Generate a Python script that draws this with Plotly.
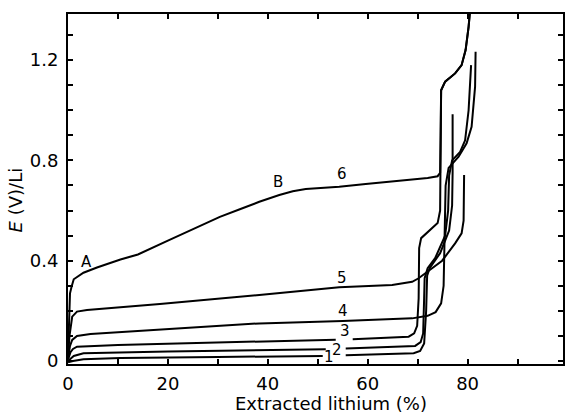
import plotly.graph_objects as go

# ---- data ----
c1_x = [0.0, 1.0, 3.1, 10.5, 30.0, 51.0, None, 55.6, 69.2, 70.5, 71.3, 71.7, 71.9, 72.4, 74.5, 76.3, 76.9, 77.0, 77.0]
c1_y = [-0.005, 0.0, 0.007, 0.012, 0.016, 0.020, None, 0.023, 0.031, 0.040, 0.070, 0.20, 0.34, 0.37, 0.43, 0.52, 0.62, 0.75, 0.984]

c2_x = [0.0, 0.6, 1.15, 3.1, 20.0, 51.6, None, 55.6, 66.0, 69.5, 70.6, 71.1, 71.3, 71.4, 72.0, 73.5, 75.5, 76.1, 76.3, 76.9, 78.5, 79.5, 80.2, 80.7]
c2_y = [0.0, 0.012, 0.020, 0.031, 0.038, 0.047, None, 0.050, 0.056, 0.060, 0.075, 0.11, 0.25, 0.33, 0.37, 0.41, 0.50, 0.60, 0.74, 0.80, 0.834, 0.88, 1.00, 1.18]

c3_x = [0.0, 0.5, 1.0, 1.8, 10.0, 30.0, 53.6, None, 57.0, 66.0, 68.2, 69.3, 69.9, 70.2, 70.3, 70.7, 72.2, 74.0, 74.5, 74.6, 74.7, 75.5, 77.5, 78.8, 79.6, 80.2, 80.5]
c3_y = [0.005, 0.035, 0.048, 0.057, 0.064, 0.075, 0.085, None, 0.087, 0.093, 0.097, 0.11, 0.14, 0.25, 0.45, 0.49, 0.516, 0.55, 0.60, 0.75, 1.08, 1.114, 1.147, 1.18, 1.24, 1.333, 1.40]

c4_x = [0.0, 0.4, 0.84, 1.8, 4.5, 10.5, 38.3, 55.0, 62.0, 68.9, 72.0, 73.6, 74.7, 75.2, 75.4, 75.6, 76.2, 78.2, 79.8, 80.8, 81.5, 81.6]
c4_y = [0.01, 0.06, 0.084, 0.100, 0.108, 0.115, 0.150, 0.160, 0.165, 0.170, 0.180, 0.195, 0.23, 0.30, 0.50, 0.70, 0.77, 0.815, 0.868, 0.934, 1.094, 1.233]

c5_x = [0.0, 0.3, 0.84, 1.8, 3.8, 10.5, 18.4, 38.3, 54.3, 64.9, 68.9, 70.2, 72.2, 74.9, 77.5, 78.8, 79.2, 79.3, 79.3]
c5_y = [0.02, 0.10, 0.177, 0.197, 0.203, 0.214, 0.227, 0.263, 0.294, 0.303, 0.316, 0.33, 0.36, 0.40, 0.469, 0.509, 0.56, 0.65, 0.742]

c6_x = [0.0, 0.2, 0.4, 0.7, 1.15, 3.1, 5.8, 10.5, 14.0, 20.0, 26.4, 30.4, 34.4, 38.3, 42.3, 45.0, 47.6, 50.3, 54.3, 59.6, 66.2, 72.0, 74.0, 74.5, 74.6, 74.7, 75.5, 77.5, 78.8, 79.6, 80.2, 80.5]
c6_y = [0.02, 0.18, 0.27, 0.295, 0.326, 0.352, 0.373, 0.405, 0.425, 0.48, 0.538, 0.575, 0.605, 0.635, 0.662, 0.677, 0.686, 0.690, 0.695, 0.706, 0.719, 0.730, 0.737, 0.75, 0.90, 1.08, 1.114, 1.147, 1.18, 1.24, 1.333, 1.40]

curve_labels = ["1", "2", "3", "4", "5", "6", "A", "B"]
label_x = [52.3, 53.8, 55.4, 55.1, 54.8, 54.8, 3.7, 42.1]
label_y = [0.015, 0.045, 0.118, 0.200, 0.330, 0.746, 0.393, 0.712]

x_tickvals = [0, 10, 20, 30, 40, 50, 60, 70, 80, 90]
x_ticktext = ["0", "", "20", "", "40", "", "60", "", "80", ""]
y_tickvals = [0.0, 0.1, 0.2, 0.3, 0.4, 0.5, 0.6, 0.7, 0.8, 0.9, 1.0, 1.1, 1.2, 1.3]
y_ticktext = ["0", "", "", "", "0.4", "", "", "", "0.8", "", "", "", "1.2", ""]

# ---- figure ----
FONT = "DejaVu Sans"
fig = go.Figure()
for xs, ys in [(c1_x, c1_y), (c2_x, c2_y), (c3_x, c3_y), (c4_x, c4_y), (c5_x, c5_y), (c6_x, c6_y)]:
    fig.add_trace(go.Scatter(x=xs, y=ys, mode="lines", connectgaps=False,
                             line=dict(color="black", width=2), showlegend=False,
                             hoverinfo="skip"))

for t, lx, ly in zip(curve_labels, label_x, label_y):
    fig.add_annotation(x=lx, y=ly, text=t, showarrow=False,
                       xanchor="center", yanchor="middle", borderpad=0,
                       font=dict(family=FONT, size=15, color="black"))

fig.add_annotation(xref="paper", yref="paper", x=0.532, y=-0.114,
                   xanchor="center", yanchor="middle",
                   text="Extracted lithium (%)", showarrow=False,
                   font=dict(family=FONT, size=18, color="black"))
fig.add_annotation(xref="paper", yref="paper", x=-0.106, y=0.469,
                   xanchor="center", yanchor="middle",
                   text="<i>E</i> (V)/Li", textangle=-90, showarrow=False,
                   font=dict(family=FONT, size=18, color="black"))

fig.update_layout(
    width=570, height=414,
    margin=dict(l=67.5, r=5, t=14, b=50),
    paper_bgcolor="white", plot_bgcolor="white",
    font=dict(family=FONT, size=18, color="black"),
)
fig.update_xaxes(range=[0, 99.1], tickmode="array", tickvals=x_tickvals, ticktext=x_ticktext,
                 ticks="inside", ticklen=5, tickwidth=1.5, tickcolor="black",
                 showline=True, linewidth=2, linecolor="black", mirror="ticks",
                 showgrid=False, zeroline=False, ticklabelstandoff=2,
                 tickfont=dict(family=FONT, size=18, color="black"))
fig.update_yaxes(range=[-0.012, 1.384], tickmode="array", tickvals=y_tickvals, ticktext=y_ticktext,
                 ticks="inside", ticklen=5, tickwidth=1.5, tickcolor="black",
                 showline=True, linewidth=2, linecolor="black", mirror="ticks",
                 showgrid=False, zeroline=False, ticklabelstandoff=4,
                 tickfont=dict(family=FONT, size=18, color="black"))

fig.write_html("out.html")
